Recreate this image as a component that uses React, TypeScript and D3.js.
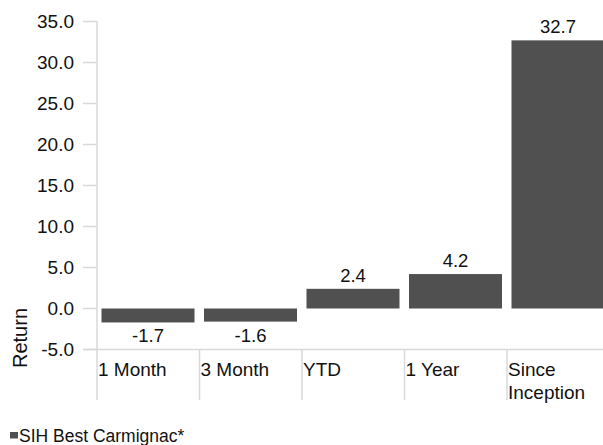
import React from "react";
import * as d3 from "d3";

const categories = ["1 Month", "3 Month", "YTD", "1 Year", "Since Inception"];
const values = [-1.7, -1.6, 2.4, 4.2, 32.7];
const yTicks = [-5, 0, 5, 10, 15, 20, 25, 30, 35];
const seriesName = "SIH Best Carmignac*";
const yTitle = "Return";

const W = 603;
const H = 445;
const FONT = "'Liberation Sans', Arial, sans-serif";
const BAR = "#505050";
const AXIS = "#d9d9d9";

export default function App() {
  const y = d3.scaleLinear().domain([-5, 35]).range([349.5, 21.5]);
  const x = d3.scaleBand<string>().domain(categories).range([97, 97 + 5 * 102.5]).padding(0);
  const bw = x.bandwidth();
  const y0 = y(0);

  return (
    <svg
      width={W}
      height={H}
      style={{ position: "absolute", left: 0, top: 0, overflow: "hidden" }}
      fontFamily={FONT}
    >
      <rect width={W} height={H} fill="#fff" />
      <line x1={97} x2={97} y1={y(35)} y2={400} stroke={AXIS} strokeWidth={1.5} />
      <line x1={83} x2={W + 10} y1={y(-5)} y2={y(-5)} stroke={AXIS} strokeWidth={1.5} />
      {yTicks.map((t) => (
        <g key={t}>
          <line x1={83} x2={97} y1={y(t)} y2={y(t)} stroke={AXIS} strokeWidth={1.5} />
          <text x={74} y={y(t)} dy="0.35em" textAnchor="end" fontSize={19} fill="#111">
            {t.toFixed(1)}
          </text>
        </g>
      ))}
      {categories.map((c, i) => {
        const bx = x(c)!;
        const v = values[i];
        const top = v >= 0 ? y(v) : y0;
        const h = Math.abs(y(v) - y0);
        const words = c.length > 10 ? c.split(" ") : [c];
        return (
          <g key={c}>
            <line x1={bx + bw} x2={bx + bw} y1={y(-5)} y2={400} stroke={AXIS} strokeWidth={1.5} />
            <rect x={bx + 4.5} y={top} width={bw - 9.5} height={h} fill={BAR} />
            <text
              x={bx + 4.5 + (bw - 9.5) / 2}
              y={v >= 0 ? y(v) - 7 : y(v) + 20}
              textAnchor="middle"
              fontSize={18.5}
              fill="#111"
            >
              {v.toFixed(1)}
            </text>
            <text x={bx + 1} y={376} fontSize={19} fill="#111">
              {words.map((w, j) => (
                <tspan key={j} x={bx + 1} dy={j === 0 ? 0 : 23}>
                  {w}
                </tspan>
              ))}
            </text>
          </g>
        );
      })}
      <text
        transform={`translate(27,338) rotate(-90)`}
        textAnchor="middle"
        fontSize={20}
        fill="#111"
      >
        {yTitle}
      </text>
      <rect x={10} y={432} width={8} height={6.5} fill={BAR} />
      <text x={19} y={442} fontSize={17.5} fill="#111">
        {seriesName}
      </text>
    </svg>
  );
}
